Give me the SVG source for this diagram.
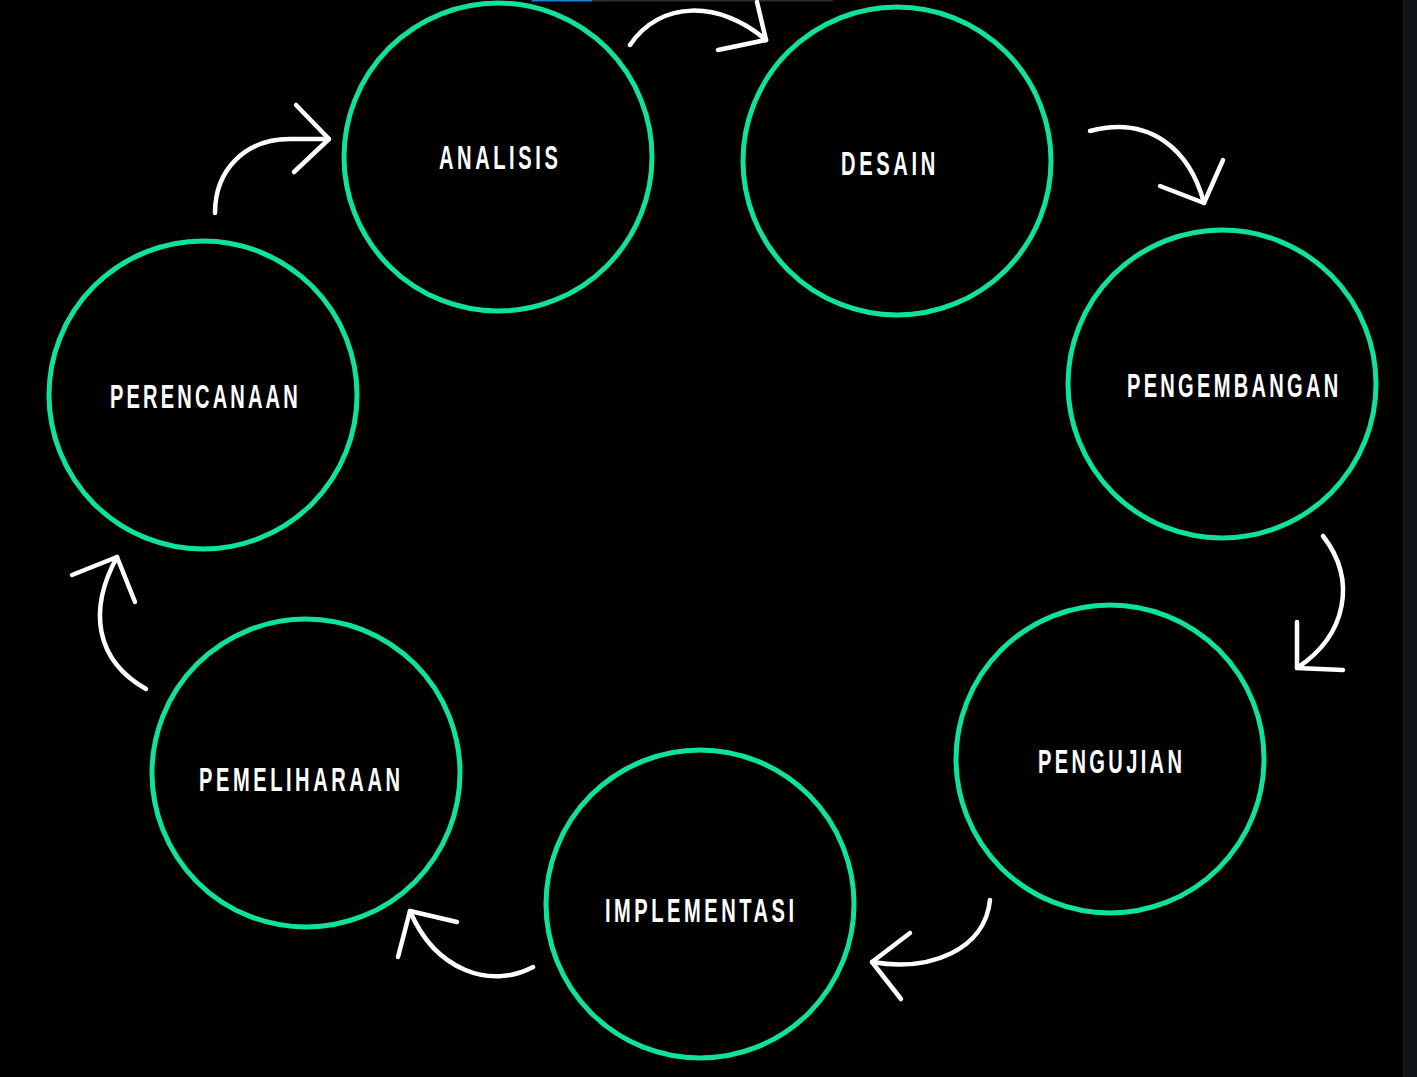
<svg xmlns="http://www.w3.org/2000/svg" width="1417" height="1077" viewBox="0 0 1417 1077">
<defs>
<style>
.node circle{fill:#000;stroke:#0FE29A;stroke-width:5}
.node text{fill:#fff;font-family:"Liberation Sans","DejaVu Sans",sans-serif;font-size:33.5px;font-weight:bold}
.arr path{fill:none;stroke:#fff;stroke-width:4.5;stroke-linecap:round;stroke-linejoin:round}
</style>
</defs>
<rect x="0" y="0" width="1417" height="1077" fill="#000"/>
<rect x="1403" y="0" width="14" height="1077" fill="#111518"/>
<rect x="592" y="0" width="241" height="1.5" fill="#2a2d31"/>
<rect x="532" y="0" width="60" height="1.5" fill="#1f7fd0"/>

<g id="analisis" class="node"><circle cx="498" cy="157" r="154"/><text transform="translate(439,169) scale(0.6,1)" x="0" y="0" textLength="198" lengthAdjust="spacing">ANALISIS</text></g>
<g id="desain" class="node"><circle cx="897" cy="161" r="154"/><text transform="translate(841,175) scale(0.6,1)" x="0" y="0" textLength="157" lengthAdjust="spacing">DESAIN</text></g>
<g id="pengembangan" class="node"><circle cx="1222" cy="384" r="154"/><text transform="translate(1127,397) scale(0.6,1)" x="0" y="0" textLength="352" lengthAdjust="spacing">PENGEMBANGAN</text></g>
<g id="pengujian" class="node"><circle cx="1110" cy="759" r="154"/><text transform="translate(1038,773) scale(0.6,1)" x="0" y="0" textLength="240" lengthAdjust="spacing">PENGUJIAN</text></g>
<g id="implementasi" class="node"><circle cx="700" cy="904" r="154"/><text transform="translate(605,922) scale(0.6,1)" x="0" y="0" textLength="315" lengthAdjust="spacing">IMPLEMENTASI</text></g>
<g id="pemeliharaan" class="node"><circle cx="306" cy="773" r="154"/><text transform="translate(199,791) scale(0.6,1)" x="0" y="0" textLength="335" lengthAdjust="spacing">PEMELIHARAAN</text></g>
<g id="perencanaan" class="node"><circle cx="203" cy="395" r="154"/><text transform="translate(110,408) scale(0.6,1)" x="0" y="0" textLength="313" lengthAdjust="spacing">PERENCANAAN</text></g>

<g id="connectors" class="arr">
<path d="M215,213 C215,170 245,139 290,139 L329,139"/><path d="M296,105 L329,139 L294,172"/>
<path d="M630,45 C660,0 720,0 766,40"/><path d="M757,2 L766,40 L718,50"/>
<path d="M1090,131 C1150,115 1190,150 1204,203"/><path d="M1223,160 L1204,203 L1160,186"/>
<path d="M1323,536 C1357,580 1347,635 1297,668"/><path d="M1297,622 L1297,668 L1343,670"/>
<path d="M990,900 C985,950 930,972 872,962"/><path d="M910,933 L872,962 L901,999"/>
<path d="M533,967 C490,990 435,970 410,911"/><path d="M398,957 L410,911 L457,922"/>
<path d="M146,689 C95,660 88,610 117,557"/><path d="M72,575 L117,557 L135,602"/>
</g>
</svg>
